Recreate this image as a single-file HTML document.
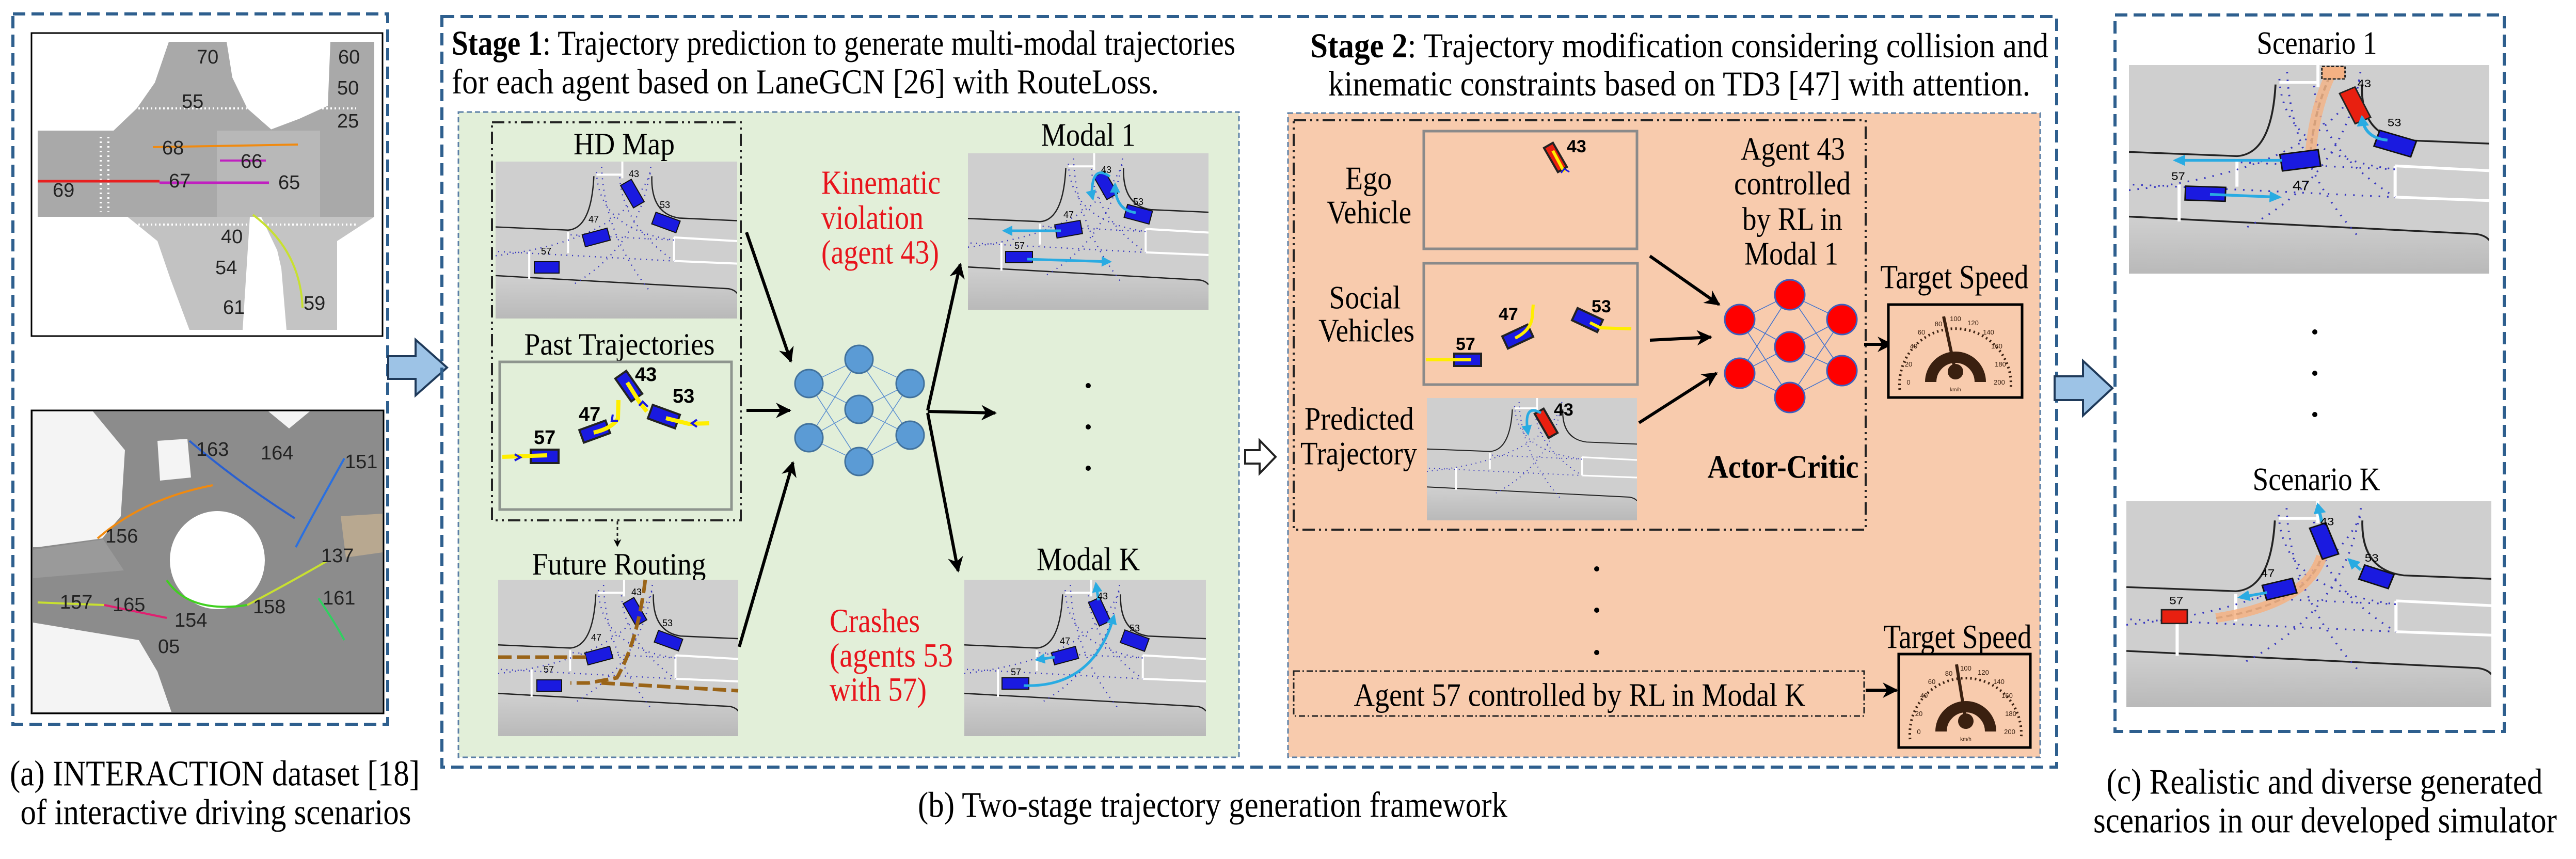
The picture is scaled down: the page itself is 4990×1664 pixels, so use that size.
<!DOCTYPE html>
<html><head><meta charset="utf-8"><style>html,body{margin:0;padding:0;background:#fff}svg{display:block}</style></head>
<body>
<svg width="4990" height="1664" viewBox="0 0 4990 1664" xmlns="http://www.w3.org/2000/svg" font-family="'Liberation Serif',serif">
<defs>
<marker id="ah" viewBox="0 0 10 10" refX="9" refY="5" markerWidth="5" markerHeight="5" orient="auto-start-reverse"><path d="M0,0 L10,5 L0,10 L3,5z" fill="#000"/></marker>
<marker id="ahc" viewBox="0 0 10 10" refX="8" refY="5" markerWidth="4" markerHeight="4" orient="auto"><path d="M0,0 L10,5 L0,10z" fill="#29abe2"/></marker>
<linearGradient id="gr" x1="0" y1="0" x2="0" y2="1"><stop offset="0" stop-color="#d0d0d0"/><stop offset="1" stop-color="#b9b9b9"/></linearGradient>
<symbol id="road" viewBox="0 0 467 300" preserveAspectRatio="none">
<rect width="467" height="300" fill="#cfcfcf"/>
<path d="M0,218 L450,243 Q462,245 467,252 L467,300 L0,300Z" fill="url(#gr)"/>
<g fill="none" stroke="#222" stroke-width="2.5"><path d="M0,125 L140,131 Q185,128 190,28"/><path d="M302,28 Q300,100 355,108 L467,113"/><path d="M0,218 L450,243 Q462,245 467,252"/></g>
<g fill="none" stroke="#fff" stroke-width="4"><path d="M195,25 L245,25 M245,0 L245,32 M345,145 L345,190 M345,145 L467,152 M345,190 L467,195 M65,172 L65,225 M140,135 L140,175"/></g>
<g fill="none" stroke="#3535c0" stroke-width="2.5" stroke-dasharray="2 9"><path d="M5,172 L345,190"/><path d="M145,140 L345,150"/><path d="M205,10 Q210,140 300,250"/><path d="M300,10 Q280,160 150,235"/><path d="M195,20 Q200,130 345,150"/><path d="M0,180 Q250,150 300,20"/><path d="M240,30 Q245,120 345,190"/></g>
</symbol>
</defs>

<!-- Left panel -->
<rect x="25" y="27" width="726" height="1376" fill="none" stroke="#2e5f8e" stroke-width="6" stroke-dasharray="24 12"/>
<rect x="61" y="64" width="680" height="587" fill="#fff" stroke="#000" stroke-width="3"/>
<g fill="#a9a9a9">
<path d="M73,253 L725,253 L725,420 L73,420Z"/>
<path d="M327,81 L439,81 L450,150 L479,210 L528,253 L220,253 L265,210 L300,160Z"/>
<path d="M640,81 L725,81 L725,253 L519,253 L580,230 L635,205 Z"/>
<path d="M247,420 L484,420 L470,639 L367,639 L330,540 L305,467Z" fill="#c2c2c2"/>
<path d="M506,420 L725,420 L653,467 L653,639 L555,639 L545,520 L537,485Z" fill="#c4c4c4"/>
<path d="M420,253 L620,253 L620,420 L420,420Z" fill="#b8b8b8"/>
</g>
<g stroke="#fff" stroke-width="4" stroke-dasharray="3 5"><path d="M260,210 L480,210 M520,210 L690,210 M260,435 L480,435 M510,435 L690,435"/><path d="M195,265 L195,410 M210,265 L210,410" stroke-dasharray="3 6"/></g>
<g fill="none">
<path d="M73,351 L309,351" stroke="#e82020" stroke-width="5"/>
<path d="M309,354 L521,354" stroke="#c020c0" stroke-width="5"/>
<path d="M296,285 L577,280" stroke="#f08a10" stroke-width="4"/>
<path d="M426,311 L515,311" stroke="#c020c0" stroke-width="4"/>
<path d="M490,416 Q582,485 586,596" stroke="#c8e030" stroke-width="4"/>
</g>
<g font-family="'Liberation Sans',sans-serif" font-size="38" fill="#222" dominant-baseline="central"><text x="381" y="111">70</text><text x="655" y="111">60</text><text x="653" y="171">50</text><text x="653" y="235">25</text><text x="352" y="197">55</text><text x="314" y="287">68</text><text x="466" y="313">66</text><text x="327" y="351">67</text><text x="539" y="354">65</text><text x="102" y="369">69</text><text x="428" y="459">40</text><text x="417" y="519">54</text><text x="432" y="596">61</text><text x="588" y="588">59</text></g>

<rect x="61" y="795" width="682" height="587" fill="#8c8c8c" stroke="#000" stroke-width="3"/>
<g fill="#f4f4f4">
<path d="M64,797 L180,797 L242,872 L234,1000 L198,1043 L73,1060 L64,1060Z"/>
<path d="M305,854 L363,850 L370,925 L310,931Z"/>
<path d="M64,1206 L269,1240 L305,1301 L332,1379 L64,1379Z"/>
<path d="M520,797 L600,797 L560,830Z"/>
</g>
<path d="M64,1065 L200,1045 L240,1105 L64,1120Z" fill="#9a9a9a"/>
<path d="M660,1000 L741,995 L741,1070 L670,1080Z" fill="#b8a890"/>
<ellipse cx="421" cy="1085" rx="92" ry="95" fill="#fff"/>
<g fill="none" stroke-width="4">
<path d="M367,854 Q457,931 571,1004" stroke="#2a60d0"/>
<path d="M667,888 Q595,1017 573,1060" stroke="#2a70e0"/>
<path d="M189,1043 Q278,966 412,940" stroke="#f08a10"/>
<path d="M323,1124 Q367,1189 479,1172" stroke="#40d020"/>
<path d="M479,1172 Q546,1137 635,1086" stroke="#c8e030"/>
<path d="M73,1167 L202,1172" stroke="#c8e030"/>
<path d="M202,1172 L323,1197" stroke="#e02070"/>
<path d="M617,1159 Q649,1206 667,1240" stroke="#30d060"/>
</g>
<g font-family="'Liberation Sans',sans-serif" font-size="38" fill="#222" dominant-baseline="central"><text x="380" y="871">163</text><text x="505" y="878">164</text><text x="668" y="895">151</text><text x="204" y="1039">156</text><text x="622" y="1077">137</text><text x="625" y="1159">161</text><text x="490" y="1176">158</text><text x="116" y="1167">157</text><text x="218" y="1172">165</text><text x="338" y="1202">154</text><text x="306" y="1253">05</text></g>

<text x="416" y="1499" font-size="70" text-anchor="middle" dominant-baseline="central" textLength="794" lengthAdjust="spacingAndGlyphs">(a) INTERACTION dataset [18]</text>
<text x="418" y="1574" font-size="70" text-anchor="middle" dominant-baseline="central" textLength="757" lengthAdjust="spacingAndGlyphs">of interactive driving scenarios</text>
<path d="M752,690 L805,690 L805,658 L866,712 L805,766 L805,734 L752,734Z" fill="#9dc3e6" stroke="#1f3a5a" stroke-width="4"/>

<!-- Middle outer box -->
<rect x="856" y="32" width="3128" height="1454" fill="none" stroke="#2e5f8e" stroke-width="6" stroke-dasharray="24 12"/>
<text x="875" y="83" font-size="68" dominant-baseline="central" textLength="1518" lengthAdjust="spacingAndGlyphs"><tspan font-weight="bold">Stage 1</tspan>: Trajectory prediction to generate multi-modal trajectories</text>
<text x="875" y="158" font-size="68" dominant-baseline="central" textLength="1370" lengthAdjust="spacingAndGlyphs">for each agent based on LaneGCN [26] with RouteLoss.</text>
<text x="2538" y="88" font-size="68" dominant-baseline="central" textLength="1430" lengthAdjust="spacingAndGlyphs"><tspan font-weight="bold">Stage 2</tspan>: Trajectory modification considering collision and</text>
<text x="2573" y="162" font-size="68" dominant-baseline="central" textLength="1360" lengthAdjust="spacingAndGlyphs">kinematic constraints based on TD3 [47] with attention.</text>

<!-- green box -->
<rect x="888" y="217" width="1512" height="1250" fill="#e2efd9" stroke="#5b7fa6" stroke-width="3" stroke-dasharray="10 6"/>
<rect x="953" y="237" width="482" height="771" fill="none" stroke="#222" stroke-width="4" stroke-dasharray="24 8 4 8 4 8"/>
<text x="1209" y="279" font-size="60" text-anchor="middle" dominant-baseline="central" textLength="196" lengthAdjust="spacingAndGlyphs">HD Map</text>
<use href="#road" x="960" y="313" width="468" height="304"/>
<g transform="translate(960,313)"><g fill="#1a1ae0" stroke="#111" stroke-width="2"><rect x="-12" y="-25" width="24" height="50" transform="translate(265,62) rotate(-30)"/><rect x="-25" y="-12" width="50" height="24" transform="translate(195,147) rotate(-15)"/><rect x="-25" y="-12" width="50" height="24" transform="translate(330,118) rotate(20)"/><rect x="-24" y="-11" width="48" height="22" transform="translate(99,205)"/></g>
<g font-family="'Liberation Sans',sans-serif" font-size="18"><text x="258" y="30">43</text><text x="180" y="118">47</text><text x="318" y="90">53</text><text x="88" y="180">57</text></g></g>
<text x="1200" y="667" font-size="60" text-anchor="middle" dominant-baseline="central" textLength="369" lengthAdjust="spacingAndGlyphs">Past Trajectories</text>
<rect x="968" y="701" width="449" height="286" fill="#e2efd9" stroke="#8e958e" stroke-width="5"/>
<g stroke="#222" stroke-width="4" fill="#1a1ae0"><rect x="-27" y="-13" width="54" height="26" transform="translate(1218,748) rotate(55)"/><rect x="-28" y="-14" width="56" height="28" transform="translate(1286,807) rotate(20)"/><rect x="-27" y="-13" width="54" height="26" transform="translate(1152,836) rotate(-20)"/><rect x="-27" y="-13" width="54" height="26" transform="translate(1055,884)"/></g>
<g stroke="#ffee00" stroke-width="8" fill="none"><path d="M1215,741 L1240,781 L1253,797"/><path d="M1290,810 L1334,821 L1374,820"/><path d="M1150,838 Q1185,830 1197,811 L1198,775"/><path d="M973,885 L1060,882"/></g>
<g stroke="#1a1ae0" stroke-width="4" fill="none"><path d="M1238,786 L1245,778 L1255,788"/><path d="M1350,813 L1340,820 L1350,827"/><path d="M1187,803 L1185,815 L1197,815"/><path d="M997,880 L1008,886 L997,892"/></g>
<g font-family="'Liberation Sans',sans-serif" font-size="38" font-weight="bold"><text x="1230" y="738">43</text><text x="1303" y="780">53</text><text x="1121" y="815">47</text><text x="1034" y="860">57</text></g>
<path d="M1196,1010 L1196,1058" stroke="#222" stroke-width="3" stroke-dasharray="6 5" marker-end="url(#ah)"/>
<text x="1199" y="1093" font-size="60" text-anchor="middle" dominant-baseline="central" textLength="337" lengthAdjust="spacingAndGlyphs">Future Routing</text>
<use href="#road" x="965" y="1123" width="465" height="303"/>
<g transform="translate(965,1123)"><g fill="#1a1ae0" stroke="#111" stroke-width="2"><rect x="-12" y="-25" width="24" height="50" transform="translate(265,62) rotate(-30)"/><rect x="-25" y="-12" width="50" height="24" transform="translate(195,147) rotate(-15)"/><rect x="-25" y="-12" width="50" height="24" transform="translate(330,118) rotate(20)"/><rect x="-24" y="-11" width="48" height="22" transform="translate(99,205)"/></g>
<g fill="none" stroke="#9a6418" stroke-width="7" stroke-dasharray="26 10"><path d="M0,150 L180,150"/><path d="M285,0 Q270,120 230,190 L175,200 L140,200"/><path d="M200,200 L465,215"/></g>
<g font-family="'Liberation Sans',sans-serif" font-size="18"><text x="258" y="30">43</text><text x="180" y="118">47</text><text x="318" y="90">53</text><text x="88" y="180">57</text></g></g>

<!-- NN stage1 -->
<g stroke="#5b8fd0" stroke-width="1.5"><path d="M1567,743 L1664,696 M1567,743 L1664,793 M1567,743 L1664,894 M1567,848 L1664,696 M1567,848 L1664,793 M1567,848 L1664,894 M1664,696 L1763,743 M1664,696 L1763,843 M1664,793 L1763,743 M1664,793 L1763,843 M1664,894 L1763,743 M1664,894 L1763,843"/></g>
<g fill="#5b9bd5" stroke="#41719c" stroke-width="3"><circle cx="1567" cy="743" r="27"/><circle cx="1664" cy="696" r="27"/><circle cx="1763" cy="743" r="27"/><circle cx="1567" cy="848" r="27"/><circle cx="1664" cy="793" r="27"/><circle cx="1763" cy="843" r="27"/><circle cx="1664" cy="894" r="27"/></g>
<g stroke="#000" stroke-width="6" fill="none" marker-end="url(#ah)"><path d="M1446,450 L1532,700"/><path d="M1446,795 L1530,795"/><path d="M1432,1253 L1536,896"/><path d="M1797,795 L1860,512"/><path d="M1797,797 L1928,800"/><path d="M1797,800 L1856,1106"/></g>
<g fill="#e8141c" font-size="66" dominant-baseline="central"><text x="1591" y="354" textLength="231" lengthAdjust="spacingAndGlyphs">Kinematic</text><text x="1591" y="422" textLength="198" lengthAdjust="spacingAndGlyphs">violation</text><text x="1591" y="489" textLength="228" lengthAdjust="spacingAndGlyphs">(agent 43)</text><text x="1607" y="1203" textLength="175" lengthAdjust="spacingAndGlyphs">Crashes</text><text x="1607" y="1270" textLength="239" lengthAdjust="spacingAndGlyphs">(agents  53</text><text x="1607" y="1336" textLength="188" lengthAdjust="spacingAndGlyphs">with 57)</text></g>
<text x="2108" y="261" font-size="64" text-anchor="middle" dominant-baseline="central" textLength="183" lengthAdjust="spacingAndGlyphs">Modal 1</text>
<use href="#road" x="1875" y="297" width="466" height="303"/>
<g transform="translate(1875,297)"><g fill="#1a1ae0" stroke="#111" stroke-width="2"><rect x="-12" y="-25" width="24" height="50" transform="translate(267,62) rotate(-30)"/><rect x="-25" y="-13" width="50" height="26" transform="translate(195,147) rotate(-10)"/><rect x="-25" y="-13" width="50" height="26" transform="translate(330,118) rotate(15)"/><rect x="-26" y="-11" width="52" height="22" transform="translate(99,201)"/></g>
<g fill="none" stroke="#29abe2" stroke-width="5" marker-end="url(#ahc)"><path d="M180,150 L70,150"/><path d="M115,205 L275,210"/><path d="M275,45 Q240,20 240,80 L242,88"/><path d="M325,115 Q285,110 285,60"/></g>
<g font-family="'Liberation Sans',sans-serif" font-size="18"><text x="258" y="38">43</text><text x="185" y="125">47</text><text x="320" y="100">53</text><text x="90" y="185">57</text></g></g>
<g fill="#000"><circle cx="2108" cy="747" r="5"/><circle cx="2108" cy="827" r="5"/><circle cx="2108" cy="907" r="5"/></g>
<text x="2108" y="1083" font-size="64" text-anchor="middle" dominant-baseline="central" textLength="200" lengthAdjust="spacingAndGlyphs">Modal K</text>
<use href="#road" x="1868" y="1123" width="468" height="303"/>
<g transform="translate(1868,1123)"><g fill="#1a1ae0" stroke="#111" stroke-width="2"><rect x="-12" y="-25" width="24" height="50" transform="translate(262,62) rotate(-25)"/><rect x="-24" y="-12" width="48" height="24" transform="translate(195,147) rotate(-15)"/><rect x="-25" y="-13" width="50" height="26" transform="translate(330,118) rotate(20)"/><rect x="-26" y="-11" width="52" height="22" transform="translate(99,201)"/></g>
<g fill="none" stroke="#29abe2" stroke-width="5" marker-end="url(#ahc)"><path d="M175,150 L140,155"/><path d="M115,205 Q250,210 290,70"/><path d="M260,40 L255,8"/></g>
<g font-family="'Liberation Sans',sans-serif" font-size="18"><text x="258" y="38">43</text><text x="185" y="125">47</text><text x="320" y="100">53</text><text x="90" y="185">57</text></g></g>
<path d="M2412,872 L2440,872 L2440,853 L2471,885 L2440,917 L2440,898 L2412,898Z" fill="#fff" stroke="#222" stroke-width="4"/>

<!-- orange box -->
<rect x="2495" y="219" width="1457" height="1248" fill="#f8cbad" stroke="#5b7fa6" stroke-width="3" stroke-dasharray="10 6"/>
<rect x="2506" y="233" width="1108" height="793" fill="none" stroke="#222" stroke-width="4" stroke-dasharray="24 8 4 8 4 8"/>
<g font-size="64" text-anchor="middle" dominant-baseline="central"><text x="2651" y="345" textLength="90" lengthAdjust="spacingAndGlyphs">Ego</text><text x="2652" y="411" textLength="164" lengthAdjust="spacingAndGlyphs">Vehicle</text><text x="2644" y="576" textLength="139" lengthAdjust="spacingAndGlyphs">Social</text><text x="2647" y="640" textLength="186" lengthAdjust="spacingAndGlyphs">Vehicles</text><text x="2633" y="811" textLength="212" lengthAdjust="spacingAndGlyphs">Predicted</text><text x="2632" y="878" textLength="226" lengthAdjust="spacingAndGlyphs">Trajectory</text>
<text x="3473" y="288" textLength="202" lengthAdjust="spacingAndGlyphs">Agent 43</text><text x="3472" y="355" textLength="226" lengthAdjust="spacingAndGlyphs">controlled</text><text x="3472" y="424" textLength="194" lengthAdjust="spacingAndGlyphs">by RL in</text><text x="3470" y="491" textLength="182" lengthAdjust="spacingAndGlyphs">Modal 1</text>
<text x="3454" y="904" font-weight="bold" textLength="293" lengthAdjust="spacingAndGlyphs">Actor-Critic</text></g>
<rect x="2758" y="254" width="413" height="228" fill="none" stroke="#8a8a8a" stroke-width="5"/>
<rect x="-10" y="-27" width="20" height="54" transform="translate(3013,305) rotate(-30)" fill="#e82010" stroke="#222" stroke-width="4"/>
<path d="M3008,292 L3030,333" stroke="#ffee00" stroke-width="6"/>
<path d="M3024,335 L3030,327 L3040,333" stroke="#1a1ae0" stroke-width="3" fill="none"/>
<text x="3035" y="295" font-family="'Liberation Sans',sans-serif" font-weight="bold" font-size="34">43</text>
<rect x="2758" y="510" width="414" height="235" fill="none" stroke="#8a8a8a" stroke-width="5"/>
<g stroke="#222" stroke-width="4" fill="#1a1ae0"><rect x="-27" y="-13" width="54" height="26" transform="translate(2940,652) rotate(-25)"/><rect x="-27" y="-13" width="54" height="26" transform="translate(3075,620) rotate(25)"/><rect x="-26" y="-12" width="52" height="24" transform="translate(2843,697)"/></g>
<g stroke="#ffee00" stroke-width="6" fill="none"><path d="M2935,655 Q2965,640 2968,615 L2970,590"/><path d="M3080,625 L3100,635 L3160,637"/><path d="M2762,697 L2850,697"/></g>
<g font-family="'Liberation Sans',sans-serif" font-weight="bold" font-size="34"><text x="2903" y="620">47</text><text x="3083" y="605">53</text><text x="2820" y="678">57</text></g>
<use href="#road" x="2764" y="771" width="407" height="237"/>
<rect x="-10" y="-27" width="20" height="54" transform="translate(2995,820) rotate(-30)" fill="#e82010" stroke="#222" stroke-width="4"/>
<path d="M2985,800 Q2950,780 2960,840" stroke="#29abe2" stroke-width="5" fill="none" marker-end="url(#ahc)"/>
<text x="3010" y="805" font-family="'Liberation Sans',sans-serif" font-weight="bold" font-size="34">43</text>
<g stroke="#3a6fd0" stroke-width="1.5"><path d="M3370,619 L3467,571 M3370,619 L3467,672 M3370,619 L3467,770 M3370,723 L3467,571 M3370,723 L3467,672 M3370,723 L3467,770 M3467,571 L3568,619 M3467,571 L3568,718 M3467,672 L3568,619 M3467,672 L3568,718 M3467,770 L3568,619 M3467,770 L3568,718"/></g>
<g fill="#f00" stroke="#3a5fc0" stroke-width="3"><circle cx="3370" cy="619" r="29"/><circle cx="3467" cy="571" r="29"/><circle cx="3568" cy="619" r="29"/><circle cx="3370" cy="723" r="29"/><circle cx="3467" cy="672" r="29"/><circle cx="3568" cy="718" r="29"/><circle cx="3467" cy="770" r="29"/></g>
<g stroke="#000" stroke-width="6" fill="none" marker-end="url(#ah)"><path d="M3196,496 L3330,590"/><path d="M3196,659 L3314,653"/><path d="M3175,819 L3325,723"/><path d="M3611,667 L3664,667"/><path d="M3614,1337 L3674,1337"/></g>
<text x="3786" y="537" font-size="66" text-anchor="middle" dominant-baseline="central" textLength="287" lengthAdjust="spacingAndGlyphs">Target Speed</text>
<text x="3792" y="1234" font-size="66" text-anchor="middle" dominant-baseline="central" textLength="287" lengthAdjust="spacingAndGlyphs">Target Speed</text>
<g>
<rect x="3658" y="590" width="259" height="180" fill="#f8cbad" stroke="#000" stroke-width="5"/>
<path d="M3680,755 A108,108 0 1 1 3895,755" fill="none" stroke="#3a2010" stroke-width="5" stroke-dasharray="3 6"/>
<path d="M3740,740 A48,48 0 1 1 3836,740" fill="none" stroke="#3a2010" stroke-width="22"/>
<circle cx="3788" cy="720" r="15" fill="#3a2010"/>
<path d="M3788,720 L3765,613" stroke="#3a2010" stroke-width="6"/>
<g font-family="'Liberation Sans',sans-serif" font-size="13" fill="#3a2010" text-anchor="middle"><text x="3697" y="745">0</text><text x="3697" y="710">20</text><text x="3707" y="675">40</text><text x="3722" y="648">60</text><text x="3755" y="632">80</text><text x="3788" y="622">100</text><text x="3822" y="630">120</text><text x="3852" y="648">140</text><text x="3868" y="675">160</text><text x="3875" y="710">180</text><text x="3873" y="745">200</text><text x="3788" y="758" font-size="10">km/h</text></g>
</g>
<g transform="translate(20,677)">
<rect x="3658" y="590" width="255" height="181" fill="#f8cbad" stroke="#000" stroke-width="5"/>
<path d="M3680,755 A108,108 0 1 1 3895,755" fill="none" stroke="#3a2010" stroke-width="5" stroke-dasharray="3 6"/>
<path d="M3740,740 A48,48 0 1 1 3836,740" fill="none" stroke="#3a2010" stroke-width="22"/>
<circle cx="3788" cy="720" r="15" fill="#3a2010"/>
<path d="M3788,720 L3770,610" stroke="#3a2010" stroke-width="6"/>
<g font-family="'Liberation Sans',sans-serif" font-size="13" fill="#3a2010" text-anchor="middle"><text x="3697" y="745">0</text><text x="3697" y="710">20</text><text x="3707" y="675">40</text><text x="3722" y="648">60</text><text x="3755" y="632">80</text><text x="3788" y="622">100</text><text x="3822" y="630">120</text><text x="3852" y="648">140</text><text x="3868" y="675">160</text><text x="3875" y="710">180</text><text x="3873" y="745">200</text><text x="3788" y="758" font-size="10">km/h</text></g>
</g>
<g fill="#000"><circle cx="3093" cy="1102" r="5"/><circle cx="3093" cy="1182" r="5"/><circle cx="3093" cy="1264" r="5"/></g>
<rect x="2506" y="1300" width="1105" height="87" fill="none" stroke="#222" stroke-width="3" stroke-dasharray="12 5 3 5"/>
<text x="3060" y="1346" font-size="64" text-anchor="middle" dominant-baseline="central" textLength="875" lengthAdjust="spacingAndGlyphs">Agent 57 controlled by RL in  Modal K</text>
<text x="2349" y="1560" font-size="70" text-anchor="middle" dominant-baseline="central" textLength="1142" lengthAdjust="spacingAndGlyphs">(b) Two-stage trajectory generation framework</text>

<path d="M3980,729 L4035,729 L4035,699 L4092,752 L4035,805 L4035,775 L3980,775Z" fill="#9dc3e6" stroke="#1f3a5a" stroke-width="4"/>
<rect x="4097" y="29" width="754" height="1388" fill="none" stroke="#2e5f8e" stroke-width="6" stroke-dasharray="24 12"/>
<text x="4488" y="83" font-size="64" text-anchor="middle" dominant-baseline="central" textLength="233" lengthAdjust="spacingAndGlyphs">Scenario 1</text>
<use href="#road" x="4124" y="126" width="698" height="404"/>
<g transform="translate(4124,126) scale(1.495,1.347)">
<path d="M265,5 Q240,60 235,130" stroke="#555" stroke-width="3" stroke-dasharray="8 5" fill="none"/><path d="M265,5 Q240,60 235,130" stroke="#f4b183" stroke-width="14" fill="none" opacity="0.8"/>
<rect x="250" y="2" width="30" height="18" fill="#f4b183" stroke="#222" stroke-width="2" stroke-dasharray="4 2"/>
<rect x="-11" y="-24" width="22" height="48" transform="translate(293,58) rotate(-25)" fill="#e82010" stroke="#222" stroke-width="2"/>
<g fill="#1a1ae0" stroke="#111" stroke-width="2"><rect x="-25" y="-12" width="50" height="24" transform="translate(222,137) rotate(-8)"/><rect x="-25" y="-12" width="50" height="24" transform="translate(345,113) rotate(18)"/><rect x="-26" y="-11" width="52" height="20" transform="translate(99,186) rotate(2)"/></g>
<g fill="none" stroke="#29abe2" stroke-width="4" marker-end="url(#ahc)"><path d="M198,137 L60,137"/><path d="M105,186 L195,190"/><path d="M335,108 Q305,105 302,75"/></g>
<g font-family="'Liberation Sans',sans-serif" font-size="16"><text x="296" y="32">43</text><text x="335" y="88">53</text><text x="55" y="165">57</text><text x="212" y="180" font-size="20">47</text></g>
</g>
<g fill="#000"><circle cx="4484" cy="643" r="5"/><circle cx="4484" cy="723" r="5"/><circle cx="4484" cy="803" r="5"/></g>
<text x="4487" y="928" font-size="64" text-anchor="middle" dominant-baseline="central" textLength="247" lengthAdjust="spacingAndGlyphs">Scenario K</text>
<use href="#road" x="4119" y="971" width="707" height="399"/>
<g transform="translate(4119,971) scale(1.514,1.33)">
<path d="M115,170 Q230,150 250,80" stroke="#555" stroke-width="3" stroke-dasharray="8 5" fill="none"/><path d="M115,170 Q230,150 250,80" stroke="#f4b183" stroke-width="14" fill="none" opacity="0.85"/>
<rect x="45" y="158" width="33" height="20" fill="#e82010" stroke="#222" stroke-width="2"/>
<g fill="#1a1ae0" stroke="#111" stroke-width="2"><rect x="-11" y="-24" width="22" height="48" transform="translate(253,58) rotate(-20)"/><rect x="-20" y="-11" width="40" height="22" transform="translate(196,128) rotate(-15)"/><rect x="-20" y="-11" width="40" height="22" transform="translate(320,110) rotate(20)"/></g>
<g fill="none" stroke="#29abe2" stroke-width="4" marker-end="url(#ahc)"><path d="M180,133 L145,140"/><path d="M300,100 L285,85"/><path d="M250,30 L245,5"/></g>
<g font-family="'Liberation Sans',sans-serif" font-size="16"><text x="248" y="35">43</text><text x="305" y="88">53</text><text x="172" y="110">47</text><text x="55" y="150">57</text></g>
</g>
<text x="4503" y="1515" font-size="70" text-anchor="middle" dominant-baseline="central" textLength="845" lengthAdjust="spacingAndGlyphs">(c) Realistic and diverse generated</text>
<text x="4504" y="1590" font-size="70" text-anchor="middle" dominant-baseline="central" textLength="898" lengthAdjust="spacingAndGlyphs">scenarios in our developed simulator</text>
</svg>
</body></html>
